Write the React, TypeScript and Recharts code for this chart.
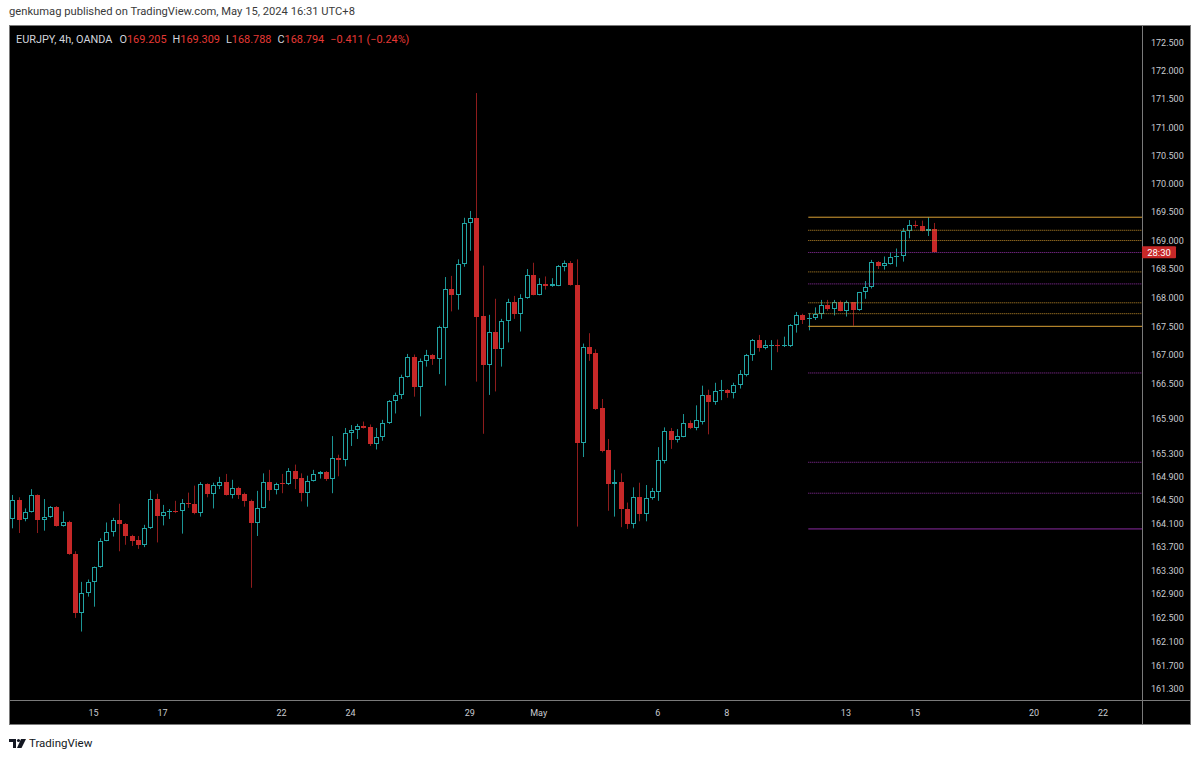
import React from 'react';
import { ComposedChart, Bar, XAxis, YAxis, ReferenceLine } from 'recharts';

// EURJPY 4h candles, Apr 11 -> May 15 2024 (one entry per bar)
const openPrices = [
  164.18, 164.51, 164.18, 164.30, 164.59, 164.17, 164.22, 164.39, 164.06, 164.13,
  163.58, 162.59, 162.92, 163.10, 163.36, 163.81, 163.96, 164.16, 164.10, 163.89,
  163.82, 163.73, 164.02, 164.52, 164.23, 164.30, 164.32, 164.31, 164.45, 164.44,
  164.29, 164.78, 164.60, 164.75, 164.82, 164.59, 164.71, 164.60, 164.49, 164.11,
  164.37, 164.81, 164.67, 164.79, 164.78, 165.00, 164.88, 164.63, 164.83, 164.95,
  164.99, 164.87, 165.23, 165.19, 165.65, 165.71, 165.77, 165.75, 165.47, 165.59,
  165.82, 166.20, 166.31, 166.62, 166.97, 166.44, 166.89, 167.01, 166.93, 167.47,
  168.15, 168.05, 168.58, 169.30, 169.40, 167.68, 166.83, 167.40, 167.11, 167.59,
  167.93, 167.72, 167.99, 168.39, 168.05, 168.23, 168.20, 168.21, 168.54, 168.61,
  168.22, 165.48, 167.14, 167.03, 166.08, 165.36, 164.78, 164.82, 164.35, 164.10,
  164.56, 164.27, 164.54, 164.64, 165.18, 165.68, 165.53, 165.59, 165.83, 165.74,
  165.85, 166.31, 166.18, 166.37, 166.40, 166.35, 166.48, 166.66, 167.00, 167.26,
  167.13, 167.17, 167.18, 167.16, 167.16, 167.53, 167.70, 167.62, 167.64, 167.72,
  167.87, 167.80, 167.92, 167.77, 167.92, 167.79, 168.09, 168.18, 168.62, 168.55,
  168.59, 168.71, 168.72, 169.16, 169.27, 169.26, 169.16, 169.205,
];
const highPrices = [
  164.59, 164.55, 164.36, 164.69, 164.60, 164.52, 164.40, 164.40, 164.31, 164.15,
  163.63, 163.11, 163.15, 163.37, 163.85, 164.12, 164.20, 164.44, 164.11, 163.91,
  163.89, 164.08, 164.67, 164.61, 164.42, 164.35, 164.49, 164.52, 164.63, 164.75,
  164.81, 164.79, 164.80, 164.90, 164.95, 164.85, 164.73, 164.63, 164.51, 164.66,
  164.96, 165.02, 164.80, 164.95, 165.05, 165.11, 164.96, 164.92, 165.02, 165.00,
  165.00, 165.60, 165.28, 165.74, 165.79, 165.81, 165.85, 165.80, 165.74, 165.88,
  166.22, 166.35, 166.66, 167.02, 167.01, 166.94, 167.09, 167.02, 167.51, 168.36,
  168.38, 168.67, 169.40, 169.52, 171.61, 168.56, 167.70, 167.98, 167.63, 167.98,
  168.03, 168.06, 168.50, 168.61, 168.34, 168.37, 168.34, 168.57, 168.65, 168.64,
  168.67, 167.20, 167.38, 167.10, 166.24, 165.55, 165.02, 164.96, 164.46, 164.72,
  164.80, 164.76, 164.71, 165.41, 165.75, 165.74, 165.72, 165.98, 165.87, 166.13,
  166.47, 166.40, 166.52, 166.57, 166.41, 166.52, 166.74, 167.02, 167.28, 167.35,
  167.26, 167.26, 167.27, 167.32, 167.54, 167.75, 167.72, 167.73, 167.83, 167.96,
  167.96, 167.96, 167.95, 167.95, 167.92, 168.10, 168.29, 168.66, 168.64, 168.72,
  168.79, 168.86, 169.22, 169.36, 169.35, 169.35, 169.41, 169.309,
];
const lowPrices = [
  164.02, 163.94, 164.14, 164.29, 163.94, 163.98, 164.20, 164.05, 164.05, 163.57,
  162.50, 162.27, 162.86, 162.69, 163.35, 163.80, 163.88, 163.63, 163.74, 163.72,
  163.67, 163.70, 164.01, 163.78, 164.07, 164.18, 164.28, 163.93, 164.37, 164.26,
  164.22, 164.55, 164.36, 164.69, 164.58, 164.53, 164.52, 164.39, 163.01, 163.89,
  164.36, 164.49, 164.60, 164.62, 164.76, 164.69, 164.48, 164.39, 164.82, 164.87,
  164.83, 164.62, 164.91, 165.08, 165.43, 165.55, 165.73, 165.43, 165.37, 165.52,
  165.81, 165.99, 166.24, 166.61, 166.28, 165.94, 166.80, 166.83, 166.67, 166.47,
  167.76, 167.79, 168.54, 168.82, 166.54, 165.64, 166.31, 166.37, 166.80, 167.22,
  167.63, 167.41, 167.98, 168.04, 168.04, 168.14, 168.19, 168.20, 168.46, 168.21,
  164.05, 165.24, 166.90, 166.05, 165.32, 164.32, 164.22, 164.04, 164.01, 164.02,
  164.14, 164.14, 164.51, 164.49, 165.13, 165.38, 165.49, 165.58, 165.72, 165.70,
  165.80, 165.63, 166.14, 166.22, 166.26, 166.25, 166.42, 166.63, 166.90, 167.06,
  167.10, 166.74, 167.05, 167.14, 167.14, 167.39, 167.54, 167.43, 167.61, 167.63,
  167.77, 167.69, 167.76, 167.67, 167.51, 167.77, 167.98, 168.16, 168.50, 168.49,
  168.58, 168.54, 168.63, 169.04, 169.22, 169.16, 169.08, 168.788,
];
const closePrices = [
  164.51, 164.17, 164.30, 164.59, 164.17, 164.22, 164.39, 164.06, 164.13, 163.58,
  162.59, 162.92, 163.10, 163.36, 163.81, 163.96, 164.16, 164.10, 163.89, 163.81,
  163.73, 164.02, 164.52, 164.23, 164.30, 164.31, 164.30, 164.45, 164.43, 164.29,
  164.78, 164.60, 164.76, 164.82, 164.59, 164.71, 164.59, 164.49, 164.11, 164.37,
  164.81, 164.67, 164.78, 164.78, 165.00, 164.87, 164.63, 164.83, 164.95, 164.99,
  164.87, 165.22, 165.19, 165.65, 165.71, 165.77, 165.74, 165.47, 165.59, 165.82,
  166.20, 166.31, 166.62, 166.97, 166.44, 166.89, 167.01, 166.93, 167.48, 168.15,
  168.05, 168.59, 169.31, 169.40, 167.67, 166.83, 167.40, 167.11, 167.59, 167.93,
  167.72, 167.99, 168.39, 168.05, 168.23, 168.20, 168.23, 168.55, 168.61, 168.22,
  165.48, 167.14, 167.02, 166.07, 165.35, 164.78, 164.82, 164.35, 164.10, 164.56,
  164.27, 164.54, 164.65, 165.19, 165.68, 165.53, 165.60, 165.82, 165.74, 165.87,
  166.31, 166.18, 166.37, 166.40, 166.35, 166.48, 166.67, 167.00, 167.26, 167.13,
  167.17, 167.18, 167.16, 167.18, 167.53, 167.70, 167.61, 167.64, 167.72, 167.87,
  167.80, 167.92, 167.77, 167.92, 167.79, 168.09, 168.18, 168.62, 168.55, 168.60,
  168.71, 168.72, 169.16, 169.27, 169.26, 169.16, 169.20, 168.794,
];

// time axis: bar index of the first bar of each labelled day
const dateTickIndex = [13, 24, 43, 54, 73, 84, 103, 114, 133, 144, 163, 174];
const dateTickLabels = ['15', '17', '22', '24', '29', 'May', '6', '8', '13', '15', '20', '22'];
const priceTicks = [
  172.5, 172.0, 171.5, 171.0, 170.5, 170.0, 169.5, 169.0, 168.5, 168.0, 167.5, 167.0,
  166.5, 165.9, 165.3, 164.9, 164.5, 164.1, 163.7, 163.3, 162.9, 162.5, 162.1, 161.7, 161.3,
];

// fib levels drawn from bar 127 to the right edge
const fibStartIndex = 127;
const fibOrangeSolid = [169.41, 167.5];
const fibOrangeDotted = [169.18, 169.0, 168.45, 167.91, 167.72];
const fibPurpleDotted = [168.79, 168.24, 166.69, 165.15, 164.62];
const fibPurpleSolid = [164.01];
const lastClose = 168.794;

const X_DOMAIN: [number, number] = [-0.48, 180.22];
const Y_DOMAIN: [number, number] = [161.12, 172.81];

const UP = '#22a5a5';
const UP_WICK = '#1b9494';
const DOWN = '#c62828';
const DOWN_WICK = '#8e1c1c';
const AXIS_TEXT = '#c9cbd1';
const BORDER = '#7a7a7a';
const FONT = 'Roboto, "Liberation Sans", sans-serif';

const candles = openPrices.map((open, i) => ({
  i,
  open,
  high: highPrices[i],
  low: lowPrices[i],
  close: closePrices[i],
  range: [lowPrices[i], highPrices[i]],
}));

const CandleShape = (props: any) => {
  const { x, y, width, height, payload } = props;
  if (x == null || y == null || !payload) return null;
  const { open, close, high, low } = payload;
  const lh = Math.log(high);
  const ll = Math.log(low);
  // log scale: interpolate open/close between the bar's high and low pixels
  const toY = (p: number) => y + (height * (lh - Math.log(p))) / (lh - ll || 1);
  const cx = Math.round(x + width / 2);
  const wx = cx + 0.5;
  const top = Math.round(toY(Math.max(open, close)));
  const bot = Math.max(Math.round(toY(Math.min(open, close))), top + 1);
  if (close >= open) {
    return (
      <g>
        <line x1={wx} x2={wx} y1={y} y2={top} stroke={UP_WICK} />
        <line x1={wx} x2={wx} y1={bot} y2={y + height} stroke={UP_WICK} />
        {bot - top > 2 ? (
          <rect x={cx - 1.5} y={top + 0.5} width={4} height={bot - top - 1} fill="#000" stroke={UP} />
        ) : (
          <rect x={cx - 2} y={top} width={5} height={bot - top} fill={UP} />
        )}
      </g>
    );
  }
  return (
    <g>
      <line x1={wx} x2={wx} y1={y} y2={y + height} stroke={DOWN_WICK} />
      <rect x={cx - 2} y={top} width={5} height={bot - top} fill={DOWN} />
    </g>
  );
};

const CountdownLabel = (props: any) => {
  const vb = props.viewBox;
  if (!vb) return null;
  const x = vb.x + vb.width;
  const y = vb.y;
  return (
    <g>
      <rect x={x} y={y - 6} width={34} height={12} fill={DOWN} rx={1} />
      <text x={x + 17} y={y + 3.5} fill="#fff" fontSize={9.5} fontFamily={FONT} textAnchor="middle">
        28:30
      </text>
    </g>
  );
};

const fibLine = (level: number, color: string, dashed: boolean, key: string) => (
  <ReferenceLine
    key={key}
    segment={[
      { x: fibStartIndex, y: level },
      { x: X_DOMAIN[1], y: level },
    ]}
    stroke={color}
    strokeWidth={1}
    strokeDasharray={dashed ? '1 1' : undefined}
    ifOverflow="visible"
  />
);

export default function App() {
  return (
    <div style={{ position: 'absolute', left: 0, top: 0, width: 1200, height: 758, background: '#fff', fontFamily: FONT }}>
      <div style={{ position: 'absolute', left: 9, top: 5, fontSize: 11.2, color: '#3a3a3a', whiteSpace: 'nowrap' }}>
        genkumag published on TradingView.com, May 15, 2024 16:31 UTC+8
      </div>

      <div
        style={{
          position: 'absolute',
          left: 9,
          top: 25,
          width: 1182,
          height: 700,
          background: '#000',
          border: `1px solid ${BORDER}`,
          boxSizing: 'border-box',
        }}
      />
      <div style={{ position: 'absolute', left: 1142, top: 25, width: 1, height: 700, background: BORDER }} />
      <div style={{ position: 'absolute', left: 9, top: 700, width: 1182, height: 1, background: BORDER }} />

      <div style={{ position: 'absolute', left: 9, top: 26 }}>
        <ComposedChart width={1181} height={698} data={candles} margin={{ top: 0, right: 0, bottom: 0, left: 0 }}>
          <XAxis
            dataKey="i"
            type="number"
            domain={X_DOMAIN}
            allowDataOverflow
            ticks={dateTickIndex}
            interval={0}
            tickFormatter={(v: number) => dateTickLabels[dateTickIndex.indexOf(v)] ?? ''}
            axisLine={false}
            tickLine={false}
            tickSize={0}
            tickMargin={10}
            height={24}
            tick={{ fill: AXIS_TEXT, fontSize: 9, fontFamily: FONT }}
          />
          <YAxis
            orientation="right"
            type="number"
            scale="log"
            domain={Y_DOMAIN}
            allowDataOverflow
            ticks={priceTicks}
            interval={0}
            tickFormatter={(v: number) => v.toFixed(3)}
            axisLine={false}
            tickLine={false}
            tickSize={0}
            tickMargin={9}
            width={48}
            tick={{ fill: AXIS_TEXT, fontSize: 9, fontFamily: FONT }}
          />
          {fibOrangeSolid.map((l, k) => fibLine(l, '#d9a035', false, `os${k}`))}
          {fibOrangeDotted.map((l, k) => fibLine(l, '#c28d2a', true, `od${k}`))}
          {fibPurpleDotted.map((l, k) => fibLine(l, '#9330a8', true, `pd${k}`))}
          {fibPurpleSolid.map((l, k) => fibLine(l, '#8a2aa0', false, `ps${k}`))}
          <Bar dataKey="range" barSize={5} shape={<CandleShape />} isAnimationActive={false} />
          <ReferenceLine y={lastClose} stroke="none" ifOverflow="visible" label={<CountdownLabel />} />
        </ComposedChart>
      </div>

      <div style={{ position: 'absolute', left: 16, top: 33, fontSize: 10.9, color: '#d1d4dc', whiteSpace: 'nowrap' }}>
        <span style={{ marginRight: 7 }}>EURJPY, 4h, OANDA</span>
        <span style={{ marginRight: 6 }}>
          O<span style={{ color: '#e53935' }}>169.205</span>
        </span>
        <span style={{ marginRight: 6 }}>
          H<span style={{ color: '#e53935' }}>169.309</span>
        </span>
        <span style={{ marginRight: 6 }}>
          L<span style={{ color: '#e53935' }}>168.788</span>
        </span>
        <span style={{ marginRight: 6 }}>
          C<span style={{ color: '#e53935' }}>168.794</span>
        </span>
        <span style={{ color: '#e53935' }}>−0.411 (−0.24%)</span>
      </div>

      <div style={{ position: 'absolute', left: 9, top: 736, display: 'flex', alignItems: 'center' }}>
        <svg width={17} height={11} viewBox="0 0 17 11">
          <path d="M0 1h7v9H4V4H0z" fill="#131722" />
          <circle cx={9.5} cy={2.5} r={1.6} fill="#131722" />
          <path d="M12 1h5l-4.5 9H8z" fill="#131722" />
        </svg>
        <span style={{ marginLeft: 3, fontSize: 11.5, color: '#131722' }}>TradingView</span>
      </div>
    </div>
  );
}
